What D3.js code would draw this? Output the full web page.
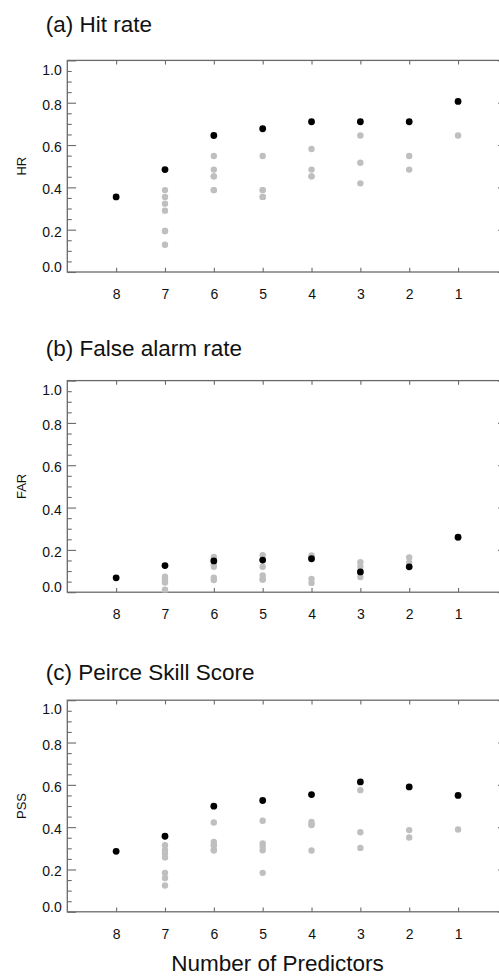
<!DOCTYPE html>
<html>
<head>
<meta charset="utf-8">
<script src="https://cdn.jsdelivr.net/npm/d3@7"></script>
<style>
  html, body { margin: 0; padding: 0; background: #fff; }
  svg { display: block; font-family: "Liberation Sans", Arial, Helvetica, sans-serif; }
</style>
</head>
<body>
<svg id="chart" width="499" height="976"></svg>
<script>
// Number of predictors retained in the regression (x axis, decreasing to the right)
const predictors = [8, 7, 6, 5, 4, 3, 2, 1];
const yTickValues = [0.0, 0.2, 0.4, 0.6, 0.8, 1.0];
const yTickLabels = ["0.0", "0.2", "0.4", "0.6", "0.8", "1.0"];

// Hit rate: best model at each size, and the other candidate models
const hrBest = [0.355, 0.484, 0.645, 0.677, 0.710, 0.710, 0.710, 0.806];
const hrOthers = [
  [],
  [0.387, 0.355, 0.323, 0.290, 0.194, 0.194, 0.129],
  [0.548, 0.484, 0.452, 0.387, 0.452, 0.387],
  [0.548, 0.387, 0.387, 0.355, 0.355],
  [0.581, 0.484, 0.452, 0.452],
  [0.645, 0.516, 0.419],
  [0.548, 0.484],
  [0.645]
];

// False alarm rate
const farBest = [0.068, 0.126, 0.148, 0.152, 0.158, 0.096, 0.120, 0.260];
const farOthers = [
  [],
  [0.073, 0.064, 0.052, 0.046, 0.012, 0.006, 0.004],
  [0.167, 0.158, 0.128, 0.120, 0.068, 0.058],
  [0.175, 0.120, 0.079, 0.060, 0.060],
  [0.174, 0.165, 0.063, 0.044],
  [0.142, 0.120, 0.072],
  [0.164, 0.140],
  [0.257]
];

// Peirce Skill Score
const pssBest = [0.286, 0.357, 0.499, 0.526, 0.554, 0.614, 0.590, 0.550];
const pssOthers = [
  [],
  [0.315, 0.291, 0.275, 0.257, 0.184, 0.160, 0.124],
  [0.422, 0.330, 0.315, 0.291, 0.291, 0.315],
  [0.430, 0.323, 0.307, 0.291, 0.184],
  [0.425, 0.412, 0.410, 0.290],
  [0.575, 0.376, 0.302],
  [0.386, 0.351],
  [0.389]
];

const titles = ["(a) Hit rate", "(b) False alarm rate", "(c) Peirce Skill Score"];
const yAxisLabels = ["HR", "FAR", "PSS"];
const xAxisTitle = "Number of Predictors";

// Layout
const W = 499, H = 976;
const plotLeft = 67.3, plotRight = 506.9;   // right frame lies just past the page edge
const plotHeight = 211.6;
const panelTops = [60.4, 380.6, 700.2];
const titleBaselines = [31.7, 356, 680];
const frameColor = "#6a6a6a";
const grayDot = "#bfbfbf";

const svg = d3.select("#chart");
svg.append("rect").attr("width", W).attr("height", H).attr("fill", "#fff");

const x = d3.scaleLinear().domain([9, 0]).range([plotLeft, plotRight]);
const minorTicks = d3.range(0, 21).map(i => i / 20).filter(v => !yTickValues.some(t => Math.abs(t - v) < 1e-9));

const series = [
  { best: hrBest, others: hrOthers },
  { best: farBest, others: farOthers },
  { best: pssBest, others: pssOthers }
];

series.forEach((s, p) => {
  const top = panelTops[p], bottom = top + plotHeight;
  const y = d3.scaleLinear().domain([0, 1]).range([bottom, top]);
  const g = svg.append("g");

  // panel title
  svg.append("text")
    .attr("x", 45.7).attr("y", titleBaselines[p])
    .attr("font-size", 22.5).attr("fill", "#111")
    .text(titles[p]);

  // clip region for the markers
  const clipId = "clip" + p;
  svg.append("clipPath").attr("id", clipId)
    .append("rect").attr("x", plotLeft).attr("y", top)
    .attr("width", plotRight - plotLeft).attr("height", plotHeight);

  // left axis: major ticks with labels
  const left = g.append("g").attr("transform", `translate(${plotLeft},0)`)
    .call(d3.axisLeft(y).tickValues(yTickValues)
      .tickFormat((d, i) => yTickLabels[i])
      .tickSize(-8.8).tickSizeOuter(0).tickPadding(5.6));
  left.select(".domain").remove();
  left.selectAll("line").attr("stroke", frameColor).attr("stroke-width", 1.1);
  left.selectAll("text")
    .attr("font-size", 14).attr("fill", "#111")
    .attr("font-family", "\"Liberation Sans\", Arial, sans-serif")
    .attr("y", d => {
      const c = Math.min(Math.max(y(d) + 2, top + 9.2), bottom - 4.8);
      return c - y(d);
    });
  // left minor ticks
  const leftMinor = g.append("g").attr("transform", `translate(${plotLeft},0)`)
    .call(d3.axisLeft(y).tickValues(minorTicks).tickFormat("").tickSize(-4.4).tickSizeOuter(0));
  leftMinor.select(".domain").remove();
  leftMinor.selectAll("line").attr("stroke", frameColor).attr("stroke-width", 1.1);

  // right axis
  const right = g.append("g").attr("transform", `translate(${plotRight},0)`)
    .call(d3.axisRight(y).tickValues(yTickValues).tickFormat("").tickSize(-8.8).tickSizeOuter(0));
  right.select(".domain").remove();
  right.selectAll("line").attr("stroke", frameColor).attr("stroke-width", 1.1);
  const rightMinor = g.append("g").attr("transform", `translate(${plotRight},0)`)
    .call(d3.axisRight(y).tickValues(minorTicks).tickFormat("").tickSize(-4.4).tickSizeOuter(0));
  rightMinor.select(".domain").remove();
  rightMinor.selectAll("line").attr("stroke", frameColor).attr("stroke-width", 1.1);

  // bottom axis with labels
  const bot = g.append("g").attr("transform", `translate(0,${bottom})`)
    .call(d3.axisBottom(x).tickValues(predictors).tickFormat(d3.format("d"))
      .tickSize(-4.2).tickSizeOuter(0).tickPadding(17.2));
  bot.select(".domain").remove();
  bot.selectAll("line").attr("stroke", frameColor).attr("stroke-width", 1.1);
  bot.selectAll("text").attr("font-size", 14).attr("fill", "#111")
    .attr("font-family", "\"Liberation Sans\", Arial, sans-serif");

  // top axis
  const topAx = g.append("g").attr("transform", `translate(0,${top})`)
    .call(d3.axisTop(x).tickValues(predictors).tickFormat("").tickSize(-4.2).tickSizeOuter(0));
  topAx.select(".domain").remove();
  topAx.selectAll("line").attr("stroke", frameColor).attr("stroke-width", 1.1);

  // frame
  g.append("rect")
    .attr("x", plotLeft).attr("y", top)
    .attr("width", plotRight - plotLeft).attr("height", plotHeight)
    .attr("fill", "none").attr("stroke", frameColor).attr("stroke-width", 1.3);

  // y axis label
  svg.append("text")
    .attr("transform", `translate(21,${(top + bottom) / 2}) rotate(-90)`)
    .attr("text-anchor", "middle").attr("dominant-baseline", "central")
    .attr("font-size", 13).attr("fill", "#111")
    .text(yAxisLabels[p]);

  // markers: alternative models in gray, best model in black on top
  const othersFlat = [];
  s.others.forEach((vals, i) => vals.forEach(v => othersFlat.push({ n: predictors[i], v })));
  const marks = svg.append("g").attr("clip-path", `url(#${clipId})`);
  marks.selectAll("circle.other").data(othersFlat).join("circle")
    .attr("class", "other")
    .attr("cx", d => x(d.n)).attr("cy", d => y(d.v)).attr("r", 3.2)
    .attr("fill", grayDot);
  marks.selectAll("circle.best").data(s.best.map((v, i) => ({ n: predictors[i], v }))).join("circle")
    .attr("class", "best")
    .attr("cx", d => x(d.n)).attr("cy", d => y(d.v)).attr("r", 3.4)
    .attr("fill", "#000");
});

// shared x axis title
svg.append("text")
  .attr("x", 277.5).attr("y", 970.5)
  .attr("text-anchor", "middle")
  .attr("font-size", 22.5).attr("fill", "#111")
  .text(xAxisTitle);
</script>
</body>
</html>
